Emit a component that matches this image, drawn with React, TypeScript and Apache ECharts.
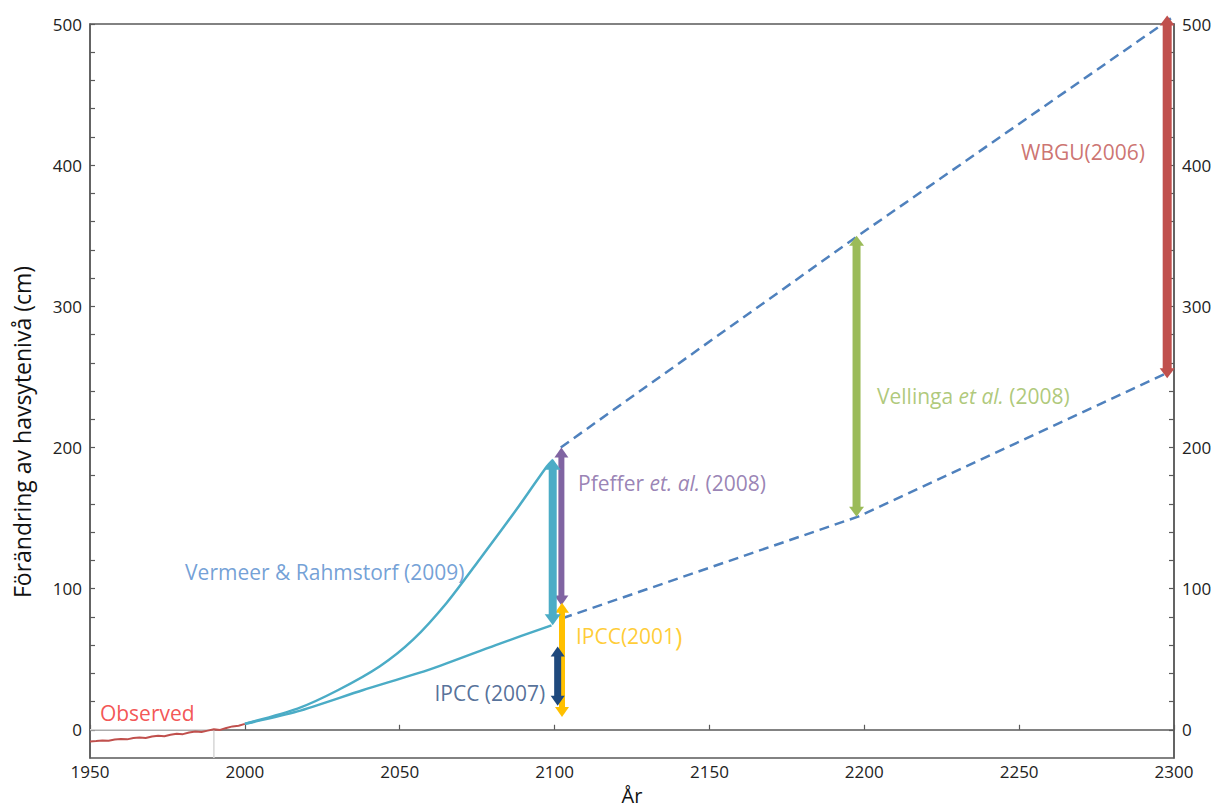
import React, { useEffect, useRef } from "react";
import * as echarts from "echarts";

// ---- data ----
const observedYears = [1950, 1952, 1954, 1956, 1958, 1960, 1962, 1964, 1966, 1968, 1970, 1972, 1974, 1976, 1978, 1980, 1982, 1984, 1986, 1988, 1990, 1992, 1994, 1996, 1998, 2000];
const observedValues = [-8.3, -8.0, -7.6, -7.8, -6.9, -6.5, -6.8, -5.9, -5.5, -5.8, -4.8, -4.2, -4.6, -3.5, -2.8, -3.1, -1.9, -1.2, -1.6, -0.6, 0.3, -0.1, 1.2, 2.4, 2.9, 4.2];

const vrUpperYears = [2000, 2017, 2030, 2043.6, 2054.4, 2065.2, 2075.9, 2086.7, 2097.5, 2099.4];
const vrUpperValues = [4.2, 15, 28, 45, 64, 90, 121, 153, 186.5, 191];
const vrLowerYears = [2000, 2017, 2038, 2060, 2081, 2099];
const vrLowerValues = [4.2, 13, 28, 43, 60, 74];

const dashUpperYears = [2102, 2198, 2299];
const dashUpperValues = [200, 350, 504];
const dashLowerYears = [2102.5, 2198, 2299];
const dashLowerValues = [79, 151, 254];

const refLineYears = [1950, 1990, 1990];
const refLineValues = [0, 0, -20];

// arrows: [year, low, high]
const arrowPfeffer = [2102.2, 88, 200];
const arrowIpcc2001 = [2102.4, 9, 90];
const arrowVermeer = [2099.4, 74, 192];
const arrowIpcc2007 = [2101, 17, 59];
const arrowVellinga = [2197.5, 151, 350];
const arrowWbgu = [2297.8, 249, 506];

const xTicks = [1950, 2000, 2050, 2100, 2150, 2200, 2250, 2300];
const yLabelValues = [0, 100, 200, 300, 400, 500];
const yTickValues = [0, 20, 40, 60, 80, 100, 120, 140, 160, 180, 200, 220, 240, 260, 280, 300, 320, 340, 360, 380, 400, 420, 440, 460, 480, 500];

// labels: [year, value]
const labelObserved = [1953.2, 12];
const labelVermeer = [1980.7, 112];
const labelPfeffer = [2107.6, 175];
const labelIpcc2001 = [2106.9, 66.5];
const labelIpcc2007 = [2097, 26];
const labelVellinga = [2204.1, 236.5];
const labelWbgu = [2250.6, 409];

const FONT = "'Open Sans', 'Noto Sans', sans-serif";
const LABEL_SIZE = 21;

function pairs(xs: number[], ys: number[]) {
  return xs.map((x, i) => [x, ys[i]]);
}

function arrowSeries(d: number[], color: string, shaft: number, headW: number, headL: number) {
  return {
    type: "custom",
    clip: false,
    silent: true,
    z: 5,
    data: [d],
    renderItem: (params: any, api: any) => {
      const x = api.value(0);
      const lo = api.value(1);
      const hi = api.value(2);
      const pLo = api.coord([x, lo]);
      const pHi = api.coord([x, hi]);
      const cx = pLo[0];
      const top = pHi[1];
      const bot = pLo[1];
      return {
        type: "group",
        children: [
          {
            type: "rect",
            shape: { x: cx - shaft / 2, y: top + headL - 1, width: shaft, height: bot - top - 2 * headL + 2 },
            style: { fill: color },
          },
          {
            type: "polygon",
            shape: { points: [[cx, top], [cx - headW / 2, top + headL], [cx + headW / 2, top + headL]] },
            style: { fill: color },
          },
          {
            type: "polygon",
            shape: { points: [[cx, bot], [cx - headW / 2, bot - headL], [cx + headW / 2, bot - headL]] },
            style: { fill: color },
          },
        ],
      };
    },
  };
}

function labelSeries(pos: number[], formatter: string, color: string, position: string, rich?: any) {
  return {
    type: "scatter",
    symbolSize: 0,
    silent: true,
    z: 6,
    data: [pos],
    label: {
      show: true,
      position,
      distance: 0,
      formatter,
      color,
      fontFamily: FONT,
      fontSize: LABEL_SIZE,
      rich,
    },
  };
}

export default function App() {
  const ref = useRef<HTMLDivElement>(null);
  useEffect(() => {
    if (!ref.current) return;
    const chart = echarts.init(ref.current, undefined, { renderer: "svg" });
    const axisColor = "#5a5a5a";
    const tickLabel = { color: "#222", fontSize: 17, fontFamily: FONT };
    const yAxisCommon = {
      type: "value",
      min: -20,
      max: 500,
      splitLine: { show: false },
      axisLine: { show: true, lineStyle: { color: axisColor, width: 1.5 } },
      axisTick: { show: true, inside: true, length: 5, customValues: yTickValues, lineStyle: { color: axisColor, width: 1.2 } },
      axisLabel: { ...tickLabel, customValues: yLabelValues, margin: 8, formatter: (v: number) => String(v) },
    };
    const vellingaRich = {
      i: { fontStyle: "italic", color: "#9bbb59", fontFamily: FONT, fontSize: LABEL_SIZE },
    };
    const pfefferRich = {
      i: { fontStyle: "italic", color: "#8064a2", fontFamily: FONT, fontSize: LABEL_SIZE },
    };
    const ipccRich = {
      p: { color: "#ffc000", fontFamily: FONT, fontSize: 25 },
    };
    chart.setOption({
      animation: false,
      backgroundColor: "#ffffff",
      grid: {
        left: 90,
        right: 39,
        top: 24,
        bottom: 53,
        show: true,
        borderColor: axisColor,
        borderWidth: 1.5,
        backgroundColor: "transparent",
        containLabel: false,
        outerBoundsMode: "none",
      },
      graphic: [
        {
          type: "text",
          x: 22,
          y: 432,
          rotation: Math.PI / 2,
          style: {
            text: "Förändring av havsytenivå (cm)",
            fill: "#111",
            font: `23px ${FONT}`,
            textAlign: "center",
            textVerticalAlign: "middle",
          },
        },
      ],
      xAxis: {
        type: "value",
        min: 1950,
        max: 2300,
        interval: 50,
        name: "År",
        nameLocation: "middle",
        nameGap: 27,
        nameTextStyle: { color: "#111", fontSize: 20, fontFamily: FONT },
        splitLine: { show: false },
        axisLine: { show: true, lineStyle: { color: axisColor, width: 1.5 } },
        axisTick: { show: true, inside: true, length: 5, customValues: xTicks, lineStyle: { color: axisColor, width: 1.2 } },
        axisLabel: { ...tickLabel, margin: 5, customValues: xTicks, formatter: (v: number) => String(v) },
      },
      yAxis: [
        { ...yAxisCommon, position: "left" },
        { ...yAxisCommon, position: "right" },
      ],
      series: [
        {
          type: "line",
          data: pairs(refLineYears, refLineValues),
          symbol: "none",
          lineStyle: { color: "#d6d6d6", width: 1.5 },
          silent: true,
          z: 1,
        },
        {
          type: "line",
          data: pairs(observedYears, observedValues),
          symbol: "none",
          lineStyle: { color: "#c0504d", width: 2 },
          silent: true,
          z: 3,
        },
        {
          type: "line",
          data: pairs(vrUpperYears, vrUpperValues),
          symbol: "none",
          smooth: 0.25,
          lineStyle: { color: "#4bacc6", width: 2.5 },
          silent: true,
          z: 3,
        },
        {
          type: "line",
          data: pairs(vrLowerYears, vrLowerValues),
          symbol: "none",
          smooth: 0.25,
          lineStyle: { color: "#4bacc6", width: 2.5 },
          silent: true,
          z: 3,
        },
        {
          type: "line",
          data: pairs(dashUpperYears, dashUpperValues),
          symbol: "none",
          clip: false,
          lineStyle: { color: "#4f81bd", width: 2.5, type: [10, 6] },
          silent: true,
          z: 2,
        },
        {
          type: "line",
          data: pairs(dashLowerYears, dashLowerValues),
          symbol: "none",
          lineStyle: { color: "#4f81bd", width: 2.5, type: [10, 6] },
          silent: true,
          z: 2,
        },
        arrowSeries(arrowPfeffer, "#8064a2", 6, 14, 10),
        arrowSeries(arrowIpcc2001, "#ffc000", 6, 14, 10),
        arrowSeries(arrowVermeer, "#4bacc6", 8, 16, 11),
        arrowSeries(arrowIpcc2007, "#1f497d", 7, 14, 10),
        arrowSeries(arrowVellinga, "#9bbb59", 8, 15, 10),
        arrowSeries(arrowWbgu, "#c0504d", 9, 15, 10),
        labelSeries(labelObserved, "Observed", "#f02a2a", "right"),
        labelSeries(labelVermeer, "Vermeer & Rahmstorf (2009)", "#4f88cc", "right"),
        labelSeries(labelPfeffer, "Pfeffer {i|et. al.} (2008)", "#8064a2", "right", pfefferRich),
        labelSeries(labelIpcc2001, "IPCC(2001{p|)}", "#ffc000", "right", ipccRich),
        labelSeries(labelIpcc2007, "IPCC (2007)", "#2a4c80", "left"),
        labelSeries(labelVellinga, "Vellinga {i|et al.} (2008)", "#9bbb59", "right", vellingaRich),
        labelSeries(labelWbgu, "WBGU(2006)", "#c0504d", "right"),
      ],
    });
    return () => chart.dispose();
  }, []);
  return (
    <div
      ref={ref}
      style={{ position: "fixed", left: 0, top: 0, width: 1213, height: 811, background: "#fff" }}
    />
  );
}
